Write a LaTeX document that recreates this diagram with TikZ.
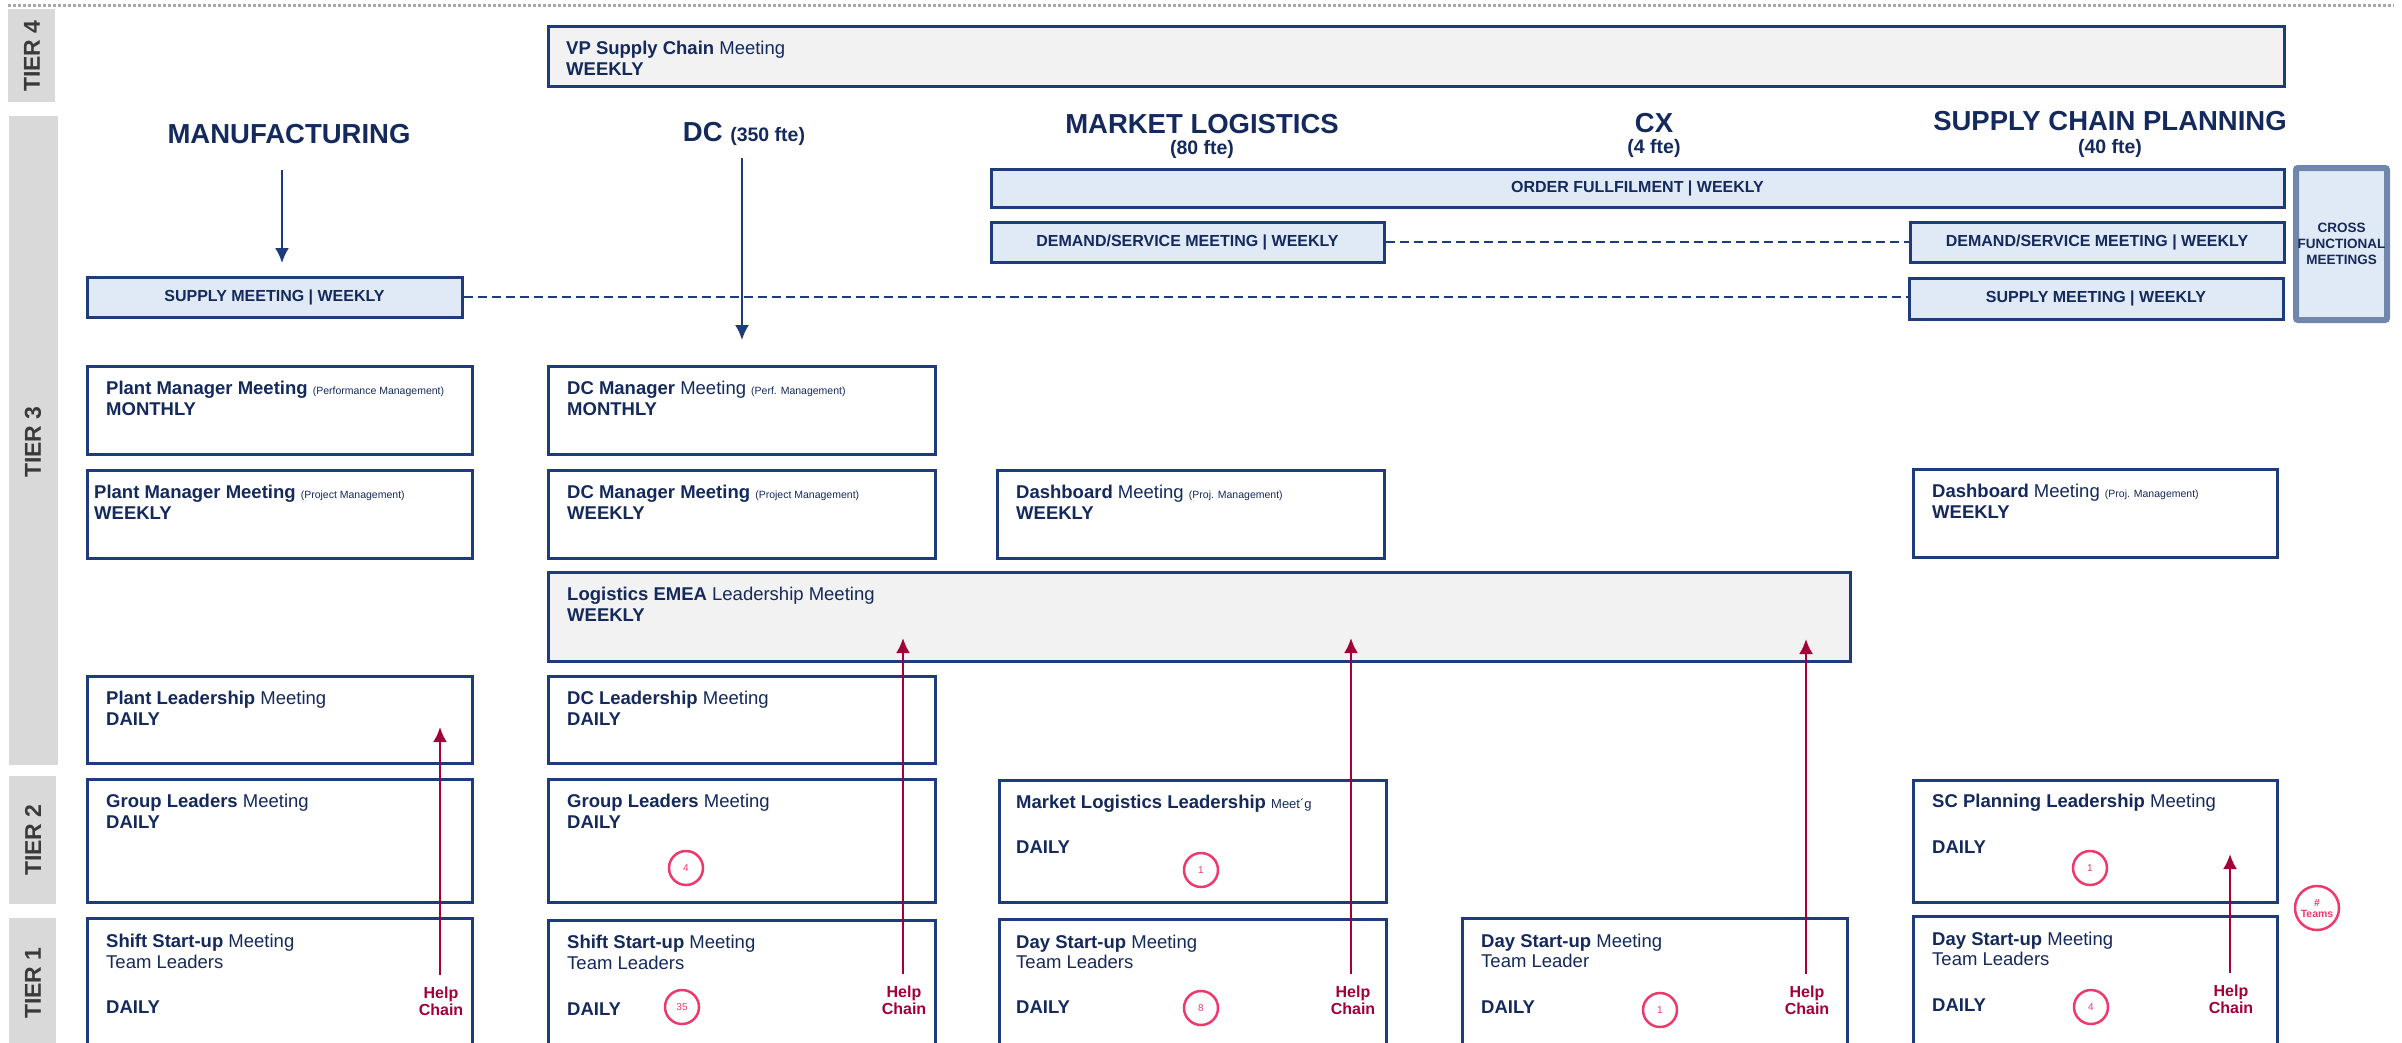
\documentclass[tikz,border=0pt]{standalone}
\usepackage{fontspec}
\setmainfont{Liberation Sans}
\usetikzlibrary{arrows.meta,fit}
\definecolor{navytxt}{HTML}{14295C}
\definecolor{navyln}{HTML}{1E3C7B}
\definecolor{paleblue}{HTML}{E0EAF6}
\definecolor{panelgray}{HTML}{F2F2F2}
\definecolor{tiergray}{HTML}{D9D9D9}
\definecolor{tiertxt}{HTML}{3A3A3A}
\definecolor{helpred}{HTML}{A3003A}
\definecolor{ringpink}{HTML}{EE3A6B}
\definecolor{crossedge}{HTML}{7086AD}
\definecolor{dotgray}{HTML}{A8A8A8}
\newcommand\fsz[1]{\fontsize{#1}{#1}\selectfont}
\newcommand\note[1]{{\fsz{10.5}\mdseries(#1)}}

\begin{document}
\begin{tikzpicture}[x=1pt,y=-1pt,
  meetbox/.style={draw=navyln,line width=3pt,fill=white,inner sep=0pt},
  bandbox/.style={meetbox,fill=paleblue},
  bandtxt/.style={inner sep=0pt,anchor=center,font=\bfseries\fsz{16},text=navytxt},
  graybox/.style={meetbox,fill=panelgray},
  tierbox/.style={fill=tiergray,inner sep=0pt},
  tierlbl/.style={rotate=90,font=\bfseries\fsz{23},text=tiertxt,inner sep=0pt},
  hdr/.style={anchor=base,inner sep=0pt,text=navytxt,font=\bfseries\fsz{27.5}},
  sub/.style={anchor=base,inner sep=0pt,text=navytxt,font=\bfseries\fsz{19.5}},
  ln/.style={anchor=base west,inner sep=0pt,text=navytxt,font=\fsz{18.5}},
  ring/.style={circle,draw=ringpink,line width=2.5pt,fill=white,minimum size=34pt,inner sep=0pt,text=ringpink,font=\fsz{10}},
  help/.style={anchor=base,inner sep=0pt,text=helpred,font=\bfseries\fsz{16}},
  helparrow/.style={draw=helpred,line width=2.5pt,-{Latex[length=15pt,width=14pt]}},
  downarrow/.style={draw=navyln,line width=2pt,-{Latex[length=15pt,width=14pt]}},
  linkline/.style={draw=navyln,line width=2pt,dash pattern=on 9pt off 5pt},
]
\useasboundingbox (0,0) rectangle (2402,1042);

% dotted rule along the top
\draw[dotgray,line width=3pt,dash pattern=on 3pt off 2pt] (8,5) -- (2394,5);

% tier bands
\node[tierbox,fit={(8,9)(55,102)}] (tier4) {};
\node[tierbox,fit={(9,116)(58,765)}] (tier3) {};
\node[tierbox,fit={(9,776)(56,904)}] (tier2) {};
\node[tierbox,fit={(9,918)(56,1045)}] (tier1) {};
\node[tierlbl] (tier4lbl) at (32,56) {TIER 4};
\node[tierlbl] (tier3lbl) at (33,442) {TIER 3};
\node[tierlbl] (tier2lbl) at (33,840) {TIER 2};
\node[tierlbl] (tier1lbl) at (33,983) {TIER 1};

% function headers
\node[hdr] (mfg) at (289,143) {MANUFACTURING};
\node[hdr] (dc) at (744,141) {DC {\fsz{19.5}(350 fte)}};
\node[hdr] (ml) at (1202,133) {MARKET LOGISTICS};
\node[sub] (mlfte) at (1202,154) {(80 fte)};
\node[hdr] (cx) at (1654,132) {CX};
\node[sub] (cxfte) at (1654,153) {(4 fte)};
\node[hdr] (scp) at (2110,130) {SUPPLY CHAIN PLANNING};
\node[sub] (scpfte) at (2110,153) {(40 fte)};

% tier 4
\node[graybox,fit={(548,26)(2284,86)}] (vp) {};
\node[ln] (vpa) at (566,54) {\textbf{VP Supply Chain} Meeting};
\node[ln] (vpb) at (566,75) {\textbf{WEEKLY}};

% cross-functional meetings
\node[bandbox,fit={(991,169)(2284,207)}] (order) {};
\node[bandtxt] (ordertxt) at (order.center) {ORDER FULLFILMENT | WEEKLY};
\node[bandbox,fit={(991,222)(1384,262)}] (dem1) {};
\node[bandtxt] (dem1txt) at (dem1.center) {DEMAND/SERVICE MEETING | WEEKLY};
\node[bandbox,fit={(1910,222)(2284,262)}] (dem2) {};
\node[bandtxt] (dem2txt) at (dem2.center) {DEMAND/SERVICE MEETING | WEEKLY};
\node[bandbox,fit={(87,277)(462,317)}] (sup1) {};
\node[bandtxt] (sup1txt) at (sup1.center) {SUPPLY MEETING | WEEKLY};
\node[bandbox,fit={(1909,278)(2283,319)}] (sup2) {};
\node[bandtxt] (sup2txt) at (sup2.center) {SUPPLY MEETING | WEEKLY};
\node[fit={(2296,168)(2387,320)},draw=crossedge,line width=6pt,fill=paleblue,
      rounded corners=2pt,inner sep=0pt] (cross) {};
\node[inner sep=0pt,align=center,text=navytxt,
      font=\bfseries\fontsize{13.5}{16}\selectfont] (crosstxt) at (cross.center) {CROSS\\FUNCTIONAL\\MEETINGS};

\draw[linkline] (sup1.east) -- (sup1.east -| sup2.west);
\draw[linkline] (dem1.east) -- (dem2.west);

% tier 3 meetings
\node[meetbox,fit={(87,366)(472,454)}] (pmperf) {};
\node[ln] (pmperfa) at (106,394) {\textbf{Plant Manager Meeting} \note{Performance Management}};
\node[ln] (pmperfb) at (106,415) {\textbf{MONTHLY}};
\node[meetbox,fit={(548,366)(935,454)}] (dcperf) {};
\node[ln] (dcperfa) at (567,394) {\textbf{DC Manager} Meeting \note{Perf. Management}};
\node[ln] (dcperfb) at (567,415) {\textbf{MONTHLY}};

\node[meetbox,fit={(87,470)(472,558)}] (pmproj) {};
\node[ln] (pmproja) at (94,498) {\textbf{Plant Manager Meeting} \note{Project Management}};
\node[ln] (pmprojb) at (94,519) {\textbf{WEEKLY}};
\node[meetbox,fit={(548,470)(935,558)}] (dcproj) {};
\node[ln] (dcproja) at (567,498) {\textbf{DC Manager Meeting} \note{Project Management}};
\node[ln] (dcprojb) at (567,519) {\textbf{WEEKLY}};
\node[meetbox,fit={(997,470)(1384,558)}] (mlproj) {};
\node[ln] (mlproja) at (1016,498) {\textbf{Dashboard} Meeting \note{Proj. Management}};
\node[ln] (mlprojb) at (1016,519) {\textbf{WEEKLY}};
\node[meetbox,fit={(1913,469)(2277,557)}] (scproj) {};
\node[ln] (scproja) at (1932,497) {\textbf{Dashboard} Meeting \note{Proj. Management}};
\node[ln] (scprojb) at (1932,518) {\textbf{WEEKLY}};

\node[graybox,fit={(548,572)(1850,661)}] (emea) {};
\node[ln] (emeaa) at (567,600) {\textbf{Logistics EMEA} Leadership Meeting};
\node[ln] (emeab) at (567,621) {\textbf{WEEKLY}};

\node[meetbox,fit={(87,676)(472,763)}] (pllead) {};
\node[ln] (plleada) at (106,704) {\textbf{Plant Leadership} Meeting};
\node[ln] (plleadb) at (106,725) {\textbf{DAILY}};
\node[meetbox,fit={(548,676)(935,763)}] (dclead) {};
\node[ln] (dcleada) at (567,704) {\textbf{DC Leadership} Meeting};
\node[ln] (dcleadb) at (567,725) {\textbf{DAILY}};

% tier 2 meetings
\node[meetbox,fit={(87,779)(472,902)}] (mfggl) {};
\node[ln] (mfggla) at (106,807) {\textbf{Group Leaders} Meeting};
\node[ln] (mfgglb) at (106,828) {\textbf{DAILY}};
\node[meetbox,fit={(548,779)(935,902)}] (dcgl) {};
\node[ln] (dcgla) at (567,807) {\textbf{Group Leaders} Meeting};
\node[ln] (dcglb) at (567,828) {\textbf{DAILY}};
\node[meetbox,fit={(999,780)(1386,902)}] (mllead) {};
\node[ln] (mlleada) at (1016,808) {\textbf{Market Logistics Leadership} {\fsz{13}Meet´g}};
\node[ln] (mlleadb) at (1016,853) {\textbf{DAILY}};
\node[meetbox,fit={(1913,780)(2277,902)}] (sclead) {};
\node[ln] (scleada) at (1932,807) {\textbf{SC Planning Leadership} Meeting};
\node[ln] (scleadb) at (1932,853) {\textbf{DAILY}};

% tier 1 meetings
\node[meetbox,fit={(87,918)(472,1048)}] (mfgshift) {};
\node[ln] (mfgshifta) at (106,947) {\textbf{Shift Start-up} Meeting};
\node[ln] (mfgshiftb) at (106,968) {Team Leaders};
\node[ln] (mfgshiftc) at (106,1013) {\textbf{DAILY}};
\node[meetbox,fit={(548,920)(935,1048)}] (dcshift) {};
\node[ln] (dcshifta) at (567,948) {\textbf{Shift Start-up} Meeting};
\node[ln] (dcshiftb) at (567,969) {Team Leaders};
\node[ln] (dcshiftc) at (567,1015) {\textbf{DAILY}};
\node[meetbox,fit={(999,919)(1386,1048)}] (mlday) {};
\node[ln] (mldaya) at (1016,948) {\textbf{Day Start-up} Meeting};
\node[ln] (mldayb) at (1016,968) {Team Leaders};
\node[ln] (mldayc) at (1016,1013) {\textbf{DAILY}};
\node[meetbox,fit={(1462,918)(1847,1048)}] (cxday) {};
\node[ln] (cxdaya) at (1481,947) {\textbf{Day Start-up} Meeting};
\node[ln] (cxdayb) at (1481,967) {Team Leader};
\node[ln] (cxdayc) at (1481,1013) {\textbf{DAILY}};
\node[meetbox,fit={(1913,916)(2277,1048)}] (scday) {};
\node[ln] (scdaya) at (1932,945) {\textbf{Day Start-up} Meeting};
\node[ln] (scdayb) at (1932,965) {Team Leaders};
\node[ln] (scdayc) at (1932,1011) {\textbf{DAILY}};

% downward arrows from the function headers
\coordinate (mfgtip) at (282,263);
\draw[downarrow,shorten <=27pt] (mfg.south -| mfgtip) -- (mfgtip);
\coordinate (dctip) at (742,340);
\draw[downarrow,shorten <=13pt] (dc.south -| dctip) -- (dctip);

% team counts
\node[ring] (r1) at (686,868) {4};
\node[ring] (r2) at (682,1007) {35};
\node[ring] (r3) at (1201,870) {1};
\node[ring] (r4) at (1201,1008) {8};
\node[ring] (r5) at (1660,1010) {1};
\node[ring] (r6) at (2090,868) {1};
\node[ring] (r7) at (2091,1007) {4};
\node[ring,minimum size=44pt,font=\bfseries\fontsize{10.5}{11}\selectfont,align=center] (teams) at (2317,908) {\#\\Teams};

% help chains
\node[help] (help1) at (441,998) {Help};
\node[help] (chain1) at (441,1015) {Chain};
\node[help] (help2) at (904,997) {Help};
\node[help] (chain2) at (904,1014) {Chain};
\node[help] (help3) at (1353,997) {Help};
\node[help] (chain3) at (1353,1014) {Chain};
\node[help] (help4) at (1807,997) {Help};
\node[help] (chain4) at (1807,1014) {Chain};
\node[help] (help5) at (2231,996) {Help};
\node[help] (chain5) at (2231,1013) {Chain};
\coordinate (tip1) at (440,727);
\coordinate (tip2) at (903,638);
\coordinate (tip3) at (1351,638);
\coordinate (tip4) at (1806,639);
\coordinate (tip5) at (2230,854);
\draw[helparrow,shorten <=11pt] (help1.north -| tip1) -- (tip1);
\draw[helparrow,shorten <=11pt] (help2.north -| tip2) -- (tip2);
\draw[helparrow,shorten <=11pt] (help3.north -| tip3) -- (tip3);
\draw[helparrow,shorten <=11pt] (help4.north -| tip4) -- (tip4);
\draw[helparrow,shorten <=11pt] (help5.north -| tip5) -- (tip5);
\end{tikzpicture}
\end{document}
